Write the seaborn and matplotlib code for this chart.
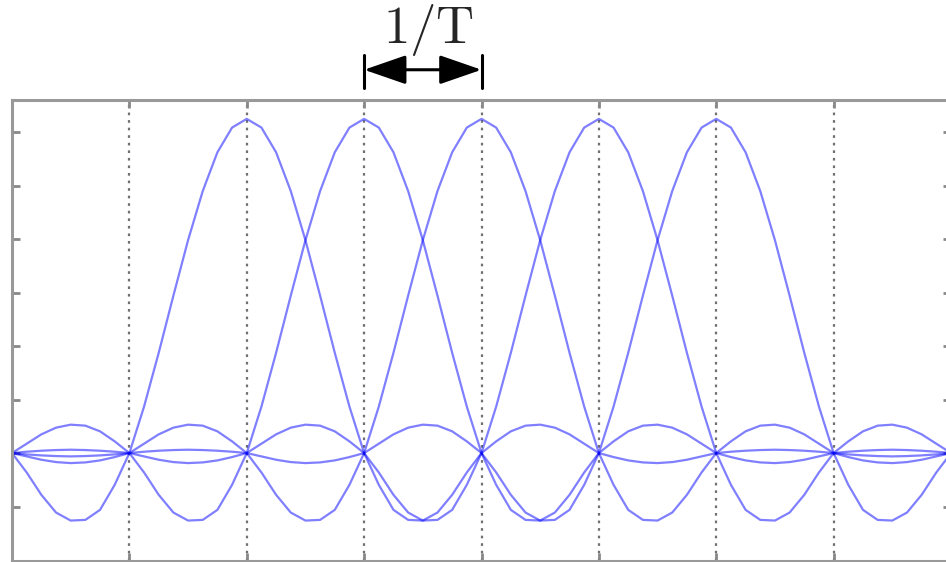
import numpy as np
import matplotlib
matplotlib.use("Agg")
import matplotlib.pyplot as plt
import pandas as pd
import seaborn as sns

# subcarrier centres (in units of 1/T)
centres = [2, 3, 4, 5, 6]
# frequency grid the curves are read on
freq = np.arange(0, 8.001, 0.125)
# shape of one subcarrier at offsets 0, 0.125, ... 6
profile = [1.000, 0.974, 0.900, 0.784, 0.637, 0.471, 0.300, 0.139,
           0.000, -0.095, -0.170, -0.200, -0.202, -0.178, -0.125, -0.058,
           0.000, 0.035, 0.065, 0.082, 0.085, 0.076, 0.056, 0.028,
           0.000, -0.012, -0.022, -0.028, -0.030, -0.027, -0.020, -0.010,
           0.000, 0.004, 0.007, 0.009, 0.010, 0.009, 0.007, 0.004,
           0.000, -0.004, -0.007, -0.009, -0.010, -0.009, -0.007, -0.004,
           0.000]
xgrid = [0, 1, 2, 3, 4, 5, 6, 7, 8]
yticks = [-0.16, 0, 0.16, 0.32, 0.48, 0.64, 0.80, 0.96]
label = r"$\mathrm{1/T}$"

rows = []
for c in centres:
    for f in freq:
        k = int(round(abs(f - c) / 0.125))
        rows.append({"carrier": c, "f": f, "amp": profile[k]})
df = pd.DataFrame(rows)

sns.set_style("white")
plt.rcParams["mathtext.fontset"] = "cm"

fig = plt.figure(figsize=(9.46, 5.62), dpi=100)
ax = fig.add_axes([12 / 946, 1 / 562, (951 - 12) / 946, 460.5 / 562])

sns.lineplot(data=df, x="f", y="amp", units="carrier", estimator=None,
             color="blue", alpha=0.5, lw=1.6, ax=ax)

ax.set_xlim(0, 8)
ax.set_ylim(-0.323, 1.055)
ax.set_xticks(xgrid)
ax.set_yticks(yticks)
ax.set_xlabel("")
ax.set_ylabel("")
ax.tick_params(direction="in", length=6, width=2, color="#888888",
               left=True, bottom=True, top=True, right=True,
               labelleft=False, labelbottom=False)
ax.grid(axis="x", linestyle=(0, (1.2, 2.2)), color="#707070", lw=1.6)
for s in ax.spines.values():
    s.set_color("#999999")
    s.set_linewidth(2.2)

# 1/T spacing marker
ax.annotate("", xy=(3, 1.147), xytext=(4, 1.147),
            arrowprops=dict(arrowstyle="<|-|>,head_length=2.6,head_width=0.9",
                            color="black", lw=2.2, shrinkA=0, shrinkB=0,
                            mutation_scale=10),
            annotation_clip=False)
for xb in [3, 4]:
    ax.plot([xb, xb], [1.093, 1.192], color="black", lw=2.2, clip_on=False)
ax.text(3.55, 1.265, label, fontsize=38, ha="center", va="center")

fig.savefig("out.png", dpi=100)
